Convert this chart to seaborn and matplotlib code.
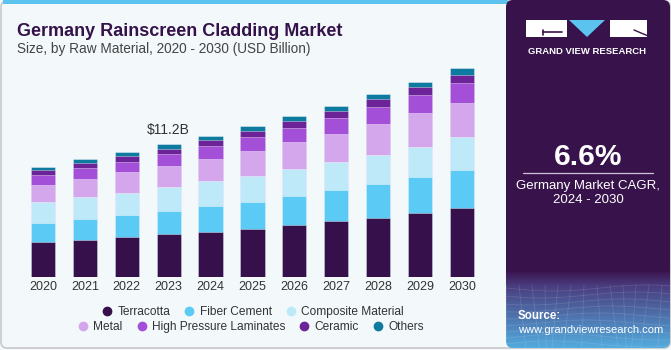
import numpy as np
import pandas as pd
import matplotlib
matplotlib.use("Agg")
import matplotlib.pyplot as plt
import seaborn as sns
from matplotlib.lines import Line2D
from matplotlib.patches import Rectangle, Polygon, FancyBboxPatch
from matplotlib.colors import to_rgb

# data (USD billion)
years = ['2020', '2021', '2022', '2023', '2024', '2025', '2026', '2027', '2028', '2029', '2030']
terracotta = [2.95, 3.12, 3.40, 3.60, 3.83, 4.08, 4.42, 4.73, 4.98, 5.43, 5.82]
fiber_cement = [1.60, 1.80, 1.80, 1.94, 2.19, 2.28, 2.45, 2.64, 2.90, 3.01, 3.23]
composite = [1.75, 1.83, 1.88, 2.03, 2.08, 2.19, 2.25, 2.36, 2.45, 2.53, 2.76]
metal = [1.46, 1.55, 1.74, 1.80, 1.88, 2.08, 2.28, 2.36, 2.62, 2.84, 2.90]
hpl = [0.87, 0.93, 0.90, 1.01, 1.10, 1.18, 1.15, 1.35, 1.43, 1.55, 1.66]
ceramic = [0.37, 0.37, 0.45, 0.42, 0.45, 0.53, 0.65, 0.53, 0.62, 0.65, 0.70]
others = [0.28, 0.37, 0.39, 0.42, 0.39, 0.39, 0.37, 0.48, 0.48, 0.45, 0.56]

segments = ['Terracotta', 'Fiber Cement', 'Composite Material', 'Metal',
            'High Pressure Laminates', 'Ceramic', 'Others']
colors = ['#36104a', '#5bcbf5', '#bde9f9', '#d4a7ec', '#a34fd8', '#6c2398', '#0d7a9f']

df = pd.DataFrame({'year': years, 'Terracotta': terracotta, 'Fiber Cement': fiber_cement,
                   'Composite Material': composite, 'Metal': metal,
                   'High Pressure Laminates': hpl, 'Ceramic': ceramic, 'Others': others})
cum = df[segments].cumsum(axis=1)

sns.set_style("white")
plt.rcParams['font.family'] = ['Liberation Sans', 'DejaVu Sans']

W, H = 671, 350
fig = plt.figure(figsize=(6.71, 3.5), dpi=100)
bg_col = '#f3f8fb'
fig.patch.set_facecolor(bg_col)

# background / decoration axes in pixel coords (y downwards)
bg = fig.add_axes([0, 0, 1, 1], zorder=0)
bg.set_xlim(0, W)
bg.set_ylim(H, 0)
bg.axis('off')

bg.add_patch(FancyBboxPatch((1, 1), W - 2, H - 3, boxstyle="round,pad=0,rounding_size=6",
                            fc=bg_col, ec='#c9c9c9', lw=1.2))
bg.add_patch(Rectangle((3, 0), 505, 4, fc='#5cc3ee', ec='none'))

# right panel with gradient at the bottom
top_col = np.array(to_rgb('#38124b'))
mid_col = np.array(to_rgb('#4a3c7e'))
bot_col = np.array(to_rgb('#53b0e2'))
rows = np.zeros((350, 1, 3))
for i in range(350):
    if i < 270:
        rows[i, 0] = top_col
    elif i < 285:
        t = (i - 270) / 15
        rows[i, 0] = top_col * (1 - t) + mid_col * t
    else:
        t = (i - 285) / 65
        rows[i, 0] = mid_col * (1 - t) + bot_col * t
im = bg.imshow(rows, extent=(506, 671, 350, 0), aspect='auto', zorder=1)
clip = FancyBboxPatch((506, 0), 164, 348, boxstyle="round,pad=0,rounding_size=7",
                      fc='none', ec='none', transform=bg.transData)
bg.add_patch(clip)
im.set_clip_path(clip)

# faint mesh in the panel bottom
for k in range(9):
    yy = 288 + k * 7
    xs = np.linspace(506, 671, 40)
    bg.plot(xs, yy + 3 * np.sin((xs - 506) / 30 + k * 0.4), color='white', alpha=0.12, lw=0.6, zorder=2)
for k in range(14):
    x0 = 506 + k * 13
    bg.plot([x0, x0 + 8 * np.sin(k)], [285, 348], color='white', alpha=0.12, lw=0.6, zorder=2)

# logo
bg.add_patch(Rectangle((526, 20), 41, 17, fc='white', ec='none', zorder=3))
bg.plot([543, 562], [32, 32], color='#38124b', lw=1.2, zorder=4)
bg.plot([543, 543], [29.5, 35], color='#38124b', lw=1.2, zorder=4)
bg.add_patch(Polygon([[569, 20], [605, 20], [587, 37]], closed=True, fc='#5cc3ee', ec='none', zorder=3))
bg.add_patch(Rectangle((610, 20), 37, 17, fc='white', ec='none', zorder=3))
bg.plot([634, 647], [30, 35.5], color='#38124b', lw=1.0, zorder=4)
bg.text(586.5, 51, 'GRAND VIEW RESEARCH', color='white', fontsize=6.8, fontweight='bold',
        ha='center', va='center', zorder=4)

bg.text(588, 157, '6.6%', color='white', fontsize=21.5, fontweight='bold', ha='center', va='center', zorder=4)
bg.plot([523, 653], [173, 173], color='#cfc3dc', lw=0.9, zorder=4)
bg.text(588, 186, 'Germany Market CAGR,', color='white', fontsize=9.5, ha='center', va='center', zorder=4)
bg.text(588, 200, '2024 - 2030', color='white', fontsize=9.5, ha='center', va='center', zorder=4)
bg.text(518, 316, 'Source:', color='white', fontsize=8.3, fontweight='bold', ha='left', va='center', zorder=4)
bg.text(518, 330, 'www.grandviewresearch.com', color='white', fontsize=8.0, ha='left', va='center', zorder=4)

# titles
bg.text(17, 36, 'Germany Rainscreen Cladding Market', color='#35124a', fontsize=13,
        fontweight='bold', ha='left', va='baseline')
bg.text(17, 53, 'Size, by Raw Material, 2020 - 2030 (USD Billion)', color='#444444', fontsize=9.8,
        ha='left', va='baseline')

# chart axes
left, right = 17.9, 17.9 + 469
base, top = 277, 52
ax = fig.add_axes([left / W, (H - base) / H, (right - left) / W, (base - top) / H], zorder=2)
ax.set_facecolor('none')

# draw tallest cumulative first so each segment sits on top of the next
for seg, col in reversed(list(zip(segments, colors))):
    sns.barplot(x=df['year'], y=cum[seg], color=col, saturation=1, width=0.58,
                edgecolor=(1, 1, 1, 0.45), linewidth=0.6, ax=ax)

ax.set_xlim(-0.6, 10.6)
ax.set_ylim(0, (base - top) / 11.85)
ax.set_xlabel('')
ax.set_ylabel('')
ax.set_yticks([])
ax.tick_params(axis='x', length=0, labelsize=9, labelcolor='#333333', pad=3)
sns.despine(ax=ax, left=True, bottom=True)

tot_2023 = cum['Others'][3]
ax.annotate(f'${tot_2023:.1f}B', xy=(3, tot_2023), xytext=(0, 5), textcoords='offset points',
            ha='center', va='bottom', fontsize=10, color='#333333')

# legend in two centred rows
handles = [Line2D([], [], marker='o', ls='none', ms=6, mfc=c, mec=c) for c in colors]
kw = dict(frameon=False, fontsize=8.6, handlelength=0.8, handletextpad=0.45, columnspacing=1.2,
          loc='center', labelcolor='#333333', borderaxespad=0, borderpad=0)
leg1 = fig.legend(handles[:3], segments[:3], ncol=3, bbox_to_anchor=(253 / W, 1 - 312 / H), **kw)
leg2 = fig.legend(handles[3:], segments[3:], ncol=4, bbox_to_anchor=(251 / W, 1 - 327 / H), **kw)

fig.savefig('out.png', dpi=100, facecolor=fig.get_facecolor())
